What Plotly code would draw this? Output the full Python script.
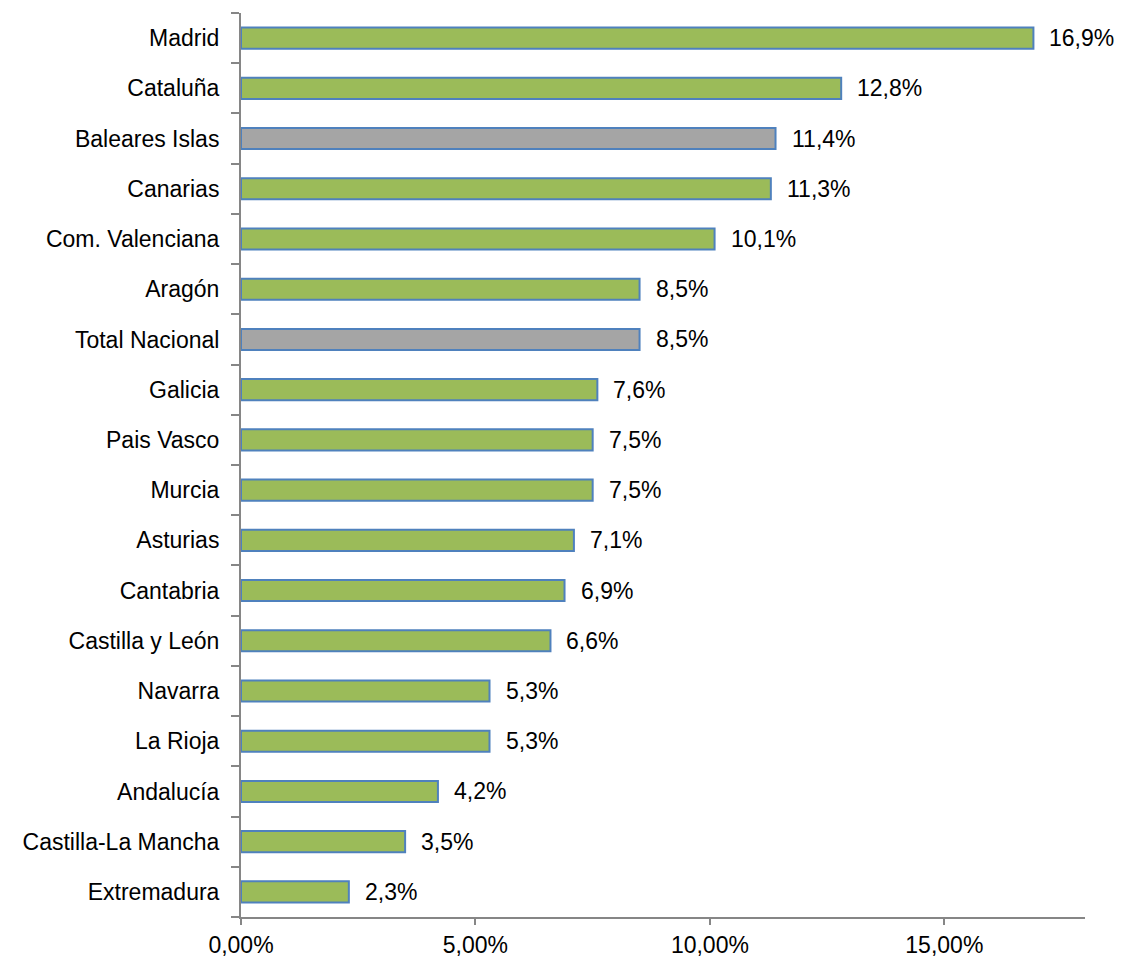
import plotly.graph_objects as go

regions = ["Madrid", "Cataluña", "Baleares Islas", "Canarias", "Com. Valenciana", "Aragón",
           "Total Nacional", "Galicia", "Pais Vasco", "Murcia", "Asturias", "Cantabria",
           "Castilla y León", "Navarra", "La Rioja", "Andalucía", "Castilla-La Mancha", "Extremadura"]
values = [16.9, 12.8, 11.4, 11.3, 10.1, 8.5, 8.5, 7.6, 7.5, 7.5, 7.1, 6.9, 6.6, 5.3, 5.3, 4.2, 3.5, 2.3]
highlight = ["Baleares Islas", "Total Nacional"]
x_ticks = [0, 0.05, 0.10, 0.15]
x_ticktext = ["0,00%", "5,00%", "10,00%", "15,00%"]

GREEN = "#9BBB59"
GRAY = "#A5A5A5"
BLUE = "#4F81BD"
AXIS = "#868686"
FONT = "Liberation Sans, Arial"
FS = 23

fracs = [v / 100 for v in values]
colors = [GRAY if r in highlight else GREEN for r in regions]
labels = [f"{v:.1f}%".replace(".", ",") for v in values]

fig = go.Figure()
fig.add_trace(go.Bar(
    y=regions, x=fracs, orientation="h",
    marker=dict(color=colors, line=dict(color=BLUE, width=2)),
    width=0.42,
    hoverinfo="skip",
))
for r, f, t in zip(regions, fracs, labels):
    fig.add_annotation(x=f, y=r, text=t, showarrow=False, xanchor="left",
                       xshift=14, font=dict(family=FONT, size=FS, color="#000"))

fig.update_layout(
    width=1116, height=950,
    margin=dict(l=233, r=39, t=5, b=41, autoexpand=False),
    plot_bgcolor="white", paper_bgcolor="white",
    showlegend=False,
    font=dict(family=FONT, size=FS, color="#000"),
    xaxis=dict(range=[0, 0.18], tickvals=x_ticks, ticktext=x_ticktext, automargin=False,
               showgrid=False, zeroline=False, showline=True, linecolor=AXIS, linewidth=2,
               ticks="outside", ticklen=6, tickwidth=2, tickcolor=AXIS,
               tickfont=dict(size=FS)),
    yaxis=dict(categoryorder="array", categoryarray=regions[::-1], type="category",
               range=[-0.5, len(regions) - 0.5], automargin=False,
               showgrid=False, zeroline=False, showline=True, linecolor=AXIS, linewidth=2,
               ticks="outside", ticklen=8, tickwidth=2, tickcolor=AXIS, tickson="boundaries",
               ticklabelstandoff=15, tickfont=dict(size=FS)),
)

fig.write_html("out.html")
